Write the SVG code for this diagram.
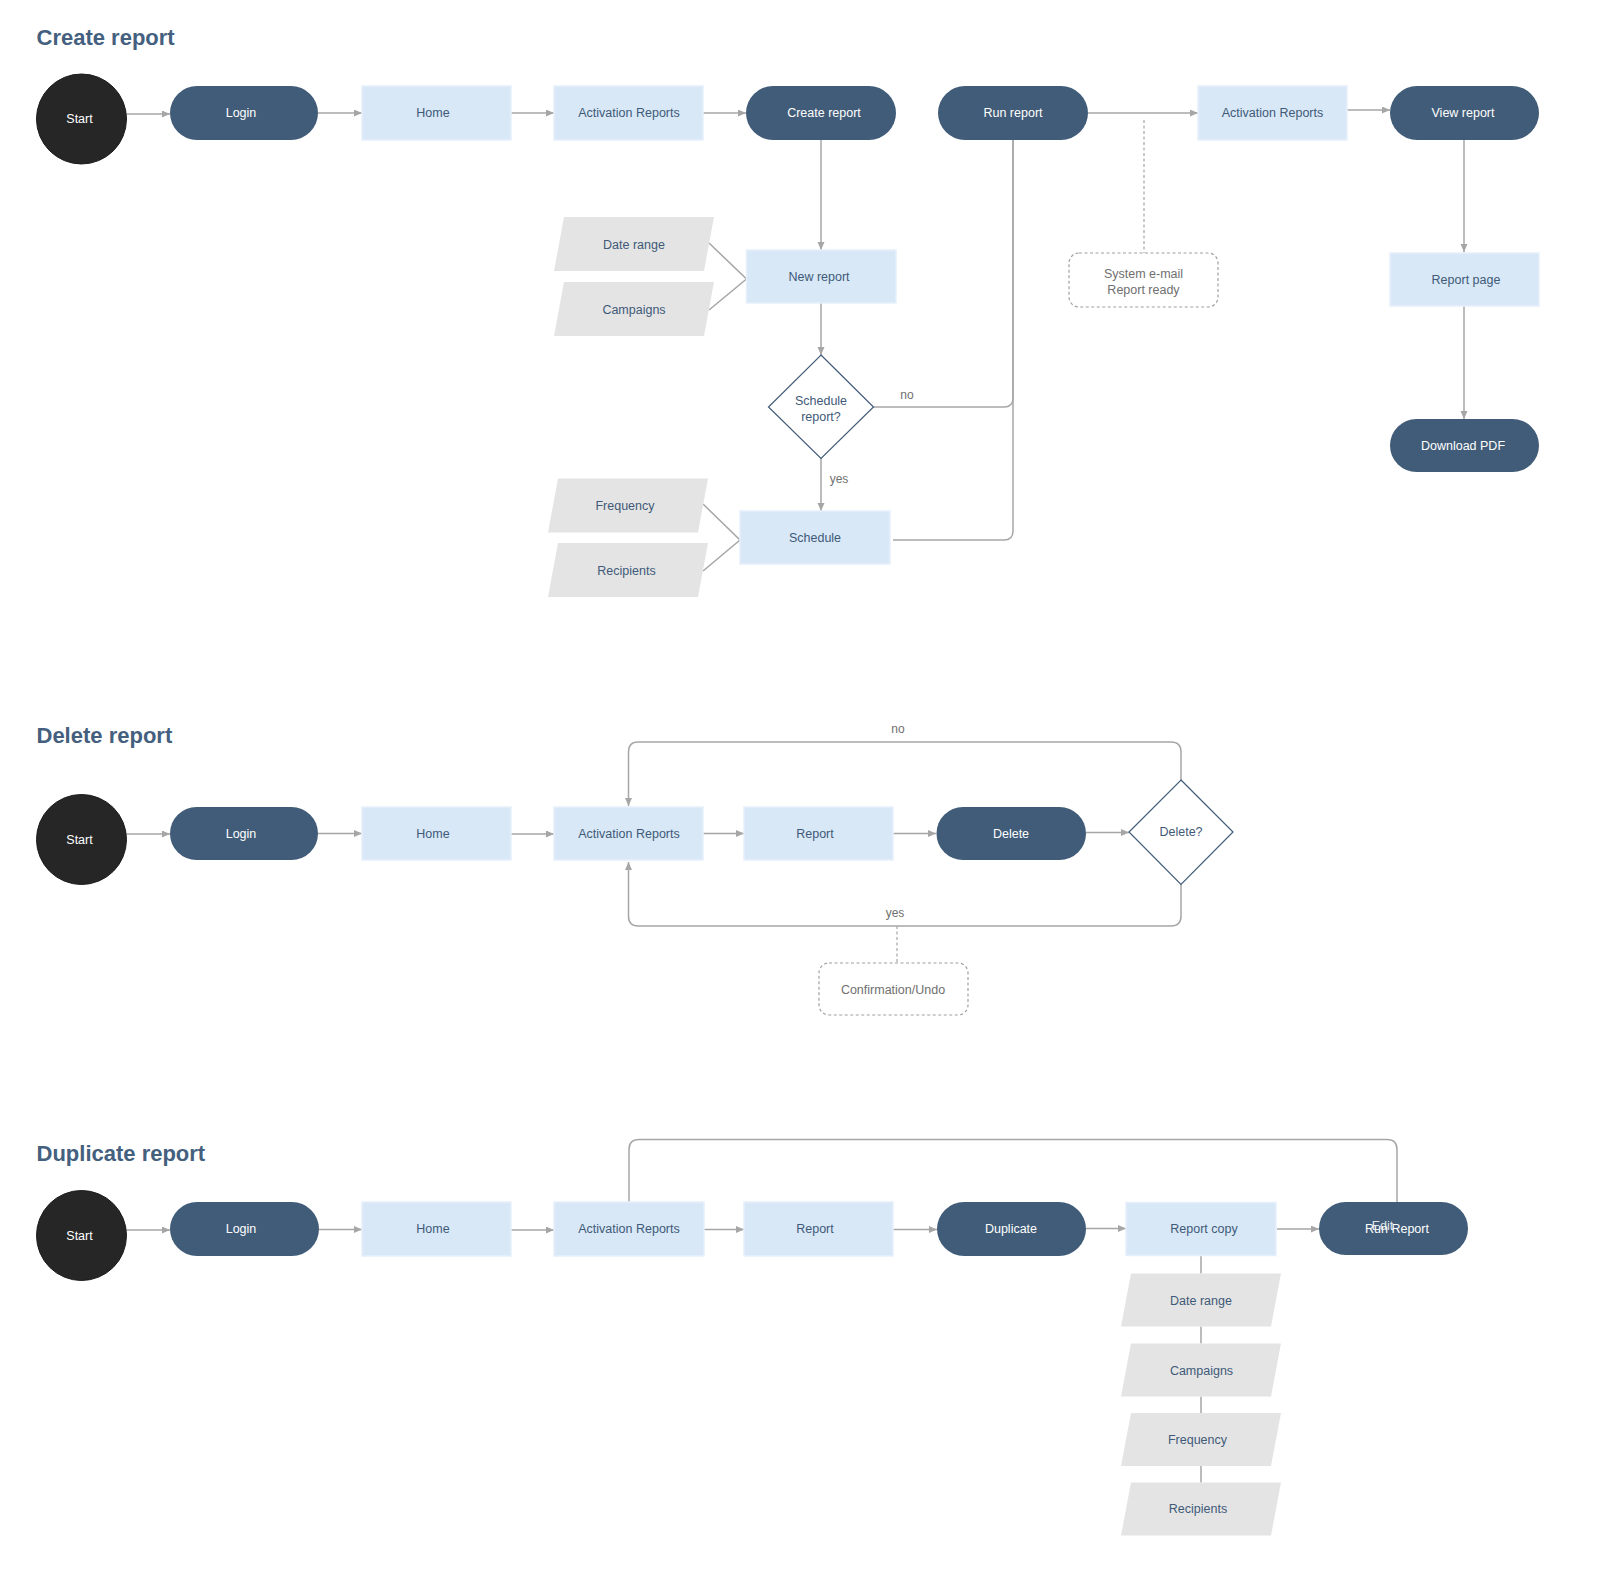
<svg xmlns="http://www.w3.org/2000/svg" width="1600" height="1573" viewBox="0 0 1600 1573">
<defs>
<marker id="ah" markerUnits="userSpaceOnUse" markerWidth="9" markerHeight="8" refX="8" refY="3.5" orient="auto">
<path d="M0,0 L8,3.5 L0,7 z" fill="#a6a6a6"/>
</marker>
<style>
.pill{fill:#415c78}
.box{fill:#d8e8f7;stroke:#e6f0fb;stroke-width:1.5}
.para{fill:#e4e4e4}
.start{fill:#262626;stroke:#1c1c1c;stroke-width:1}
.dia{fill:#fff;stroke:#415c78;stroke-width:1.2}
.note{fill:#fff;stroke:#a0a0a0;stroke-width:1.2;stroke-dasharray:3 2.5}
text{font-family:"Liberation Sans",Arial,Helvetica,sans-serif;font-size:12.5px;text-anchor:middle;dominant-baseline:central}
.tw{fill:#ffffff}
.tb{fill:#3f5a78}
.tg{fill:#707070}
.lbl{fill:#707070;font-size:12px}
.title{font-size:22px;font-weight:bold;fill:#44607e;text-anchor:start;dominant-baseline:auto}
.c{fill:none;stroke:#a6a6a6;stroke-width:1.5}
.ca{fill:none;stroke:#a6a6a6;stroke-width:1.5;marker-end:url(#ah)}
.cd{fill:none;stroke:#a6a6a6;stroke-width:1.2;stroke-dasharray:3 2.5}
</style>
</defs>
<rect width="1600" height="1573" fill="#ffffff"/>

<text class="title" x="36.5" y="45">Create report</text>
<text class="title" x="36.5" y="742.5">Delete report</text>
<text class="title" x="36.5" y="1161">Duplicate report</text>

<g id="connectors">
<!-- Create report -->
<path class="ca" d="M126.5,114 H170"/>
<path class="ca" d="M318,113 H362"/>
<path class="ca" d="M511,113 H554"/>
<path class="ca" d="M703,113 H746"/>
<path class="ca" d="M821,140 V250"/>
<path class="ca" d="M1088,113 H1198"/>
<path class="ca" d="M1347,110 H1390"/>
<path class="ca" d="M1464,140 V252"/>
<path class="ca" d="M1464,306 V419"/>
<path class="ca" d="M821,303 V355"/>
<path class="ca" d="M821,458 V511"/>
<path class="c" d="M873,407 H1004 Q1013,407 1013,398 V140"/>
<path class="c" d="M893,540 H1004 Q1013,540 1013,531 V140"/>
<path class="cd" d="M1144,120 V253"/>
<path class="c" d="M709,243 L746.5,279 L709,310"/>
<path class="c" d="M703,504 L740,540 L703,571"/>
<!-- Delete report -->
<path class="ca" d="M126.5,834 H170"/>
<path class="ca" d="M318,833.5 H362"/>
<path class="ca" d="M511,834 H554"/>
<path class="ca" d="M701.5,833.5 H744"/>
<path class="ca" d="M893,833.5 H936"/>
<path class="ca" d="M1086,832.5 H1129"/>
<path class="ca" d="M1181,780 V752 Q1181,742 1171,742 H638 Q628.5,742 628.5,752 V806"/>
<path class="ca" d="M1181,884 V916 Q1181,926 1171,926 H638 Q628.5,926 628.5,916 V862"/>
<path class="cd" d="M897,926 V963"/>
<!-- Duplicate report -->
<path class="ca" d="M126.5,1230 H170"/>
<path class="ca" d="M319,1229.5 H362"/>
<path class="ca" d="M511,1230 H554"/>
<path class="ca" d="M704,1229.5 H744"/>
<path class="ca" d="M893,1229.5 H937"/>
<path class="ca" d="M1086,1228.5 H1126"/>
<path class="ca" d="M1277,1229 H1319"/>
<path class="c" d="M629,1202 V1149.5 Q629,1139.5 639,1139.5 H1387 Q1397,1139.5 1397,1149.5 V1202"/>
<path class="c" d="M1201,1256 V1273.5 M1201,1326.5 V1343.5 M1201,1396.5 V1413 M1201,1466 V1482.5"/>
<text class="lbl" x="907" y="395">no</text>
<text class="lbl" x="839" y="479">yes</text>
<text class="lbl" x="898" y="729">no</text>
<text class="lbl" x="895" y="913">yes</text>
</g>

<!-- Create report flow -->
<g id="c-start"><circle class="start" cx="81.5" cy="119" r="45"/><text class="tw" x="79.5" y="119">Start</text></g>
<g id="c-login"><rect class="pill" x="170" y="86" width="148" height="54" rx="27"/><text class="tw" x="241" y="113">Login</text></g>
<g id="c-home"><rect class="box" x="362" y="86" width="149" height="54"/><text class="tb" x="433" y="113">Home</text></g>
<g id="c-ar"><rect class="box" x="554" y="86" width="149" height="54"/><text class="tb" x="629" y="113">Activation Reports</text></g>
<g id="c-create"><rect class="pill" x="746" y="86" width="150" height="54" rx="27"/><text class="tw" x="824" y="113">Create report</text></g>
<g id="c-run"><rect class="pill" x="938" y="86" width="150" height="54" rx="27"/><text class="tw" x="1013" y="113">Run report</text></g>
<g id="c-ar2"><rect class="box" x="1198" y="86" width="149" height="54"/><text class="tb" x="1272.5" y="113">Activation Reports</text></g>
<g id="c-view"><rect class="pill" x="1390" y="86" width="149" height="54" rx="27"/><text class="tw" x="1463" y="113">View report</text></g>
<g id="c-newreport"><rect class="box" x="746.5" y="250" width="149.5" height="53"/><text class="tb" x="819" y="276.5">New report</text></g>
<g id="c-daterange"><path class="para" d="M564,217 H714 L704,271 H554 Z"/><text class="tb" x="634" y="244.5">Date range</text></g>
<g id="c-campaigns"><path class="para" d="M564,282 H714 L704,336 H554 Z"/><text class="tb" x="634" y="309.5">Campaigns</text></g>
<g id="c-email"><rect class="note" x="1069" y="253" width="149" height="54" rx="10"/><text class="tg" x="1143.5" y="274">System e-mail</text><text class="tg" x="1143.5" y="289.5">Report ready</text></g>
<g id="c-reportpage"><rect class="box" x="1390" y="253" width="149" height="53"/><text class="tb" x="1466" y="280">Report page</text></g>
<g id="c-download"><rect class="pill" x="1390" y="419" width="149" height="53" rx="26.5"/><text class="tw" x="1463" y="445.5">Download PDF</text></g>
<g id="c-decision"><path class="dia" d="M821,355 L873.5,407 L821,458.5 L768.5,407 Z"/><text class="tb" x="821" y="401">Schedule</text><text class="tb" x="821" y="416.5">report?</text></g>
<g id="c-schedule"><rect class="box" x="740" y="511" width="150" height="53"/><text class="tb" x="815" y="538">Schedule</text></g>
<g id="c-frequency"><path class="para" d="M558,478.5 H708 L698,532.5 H548 Z"/><text class="tb" x="625" y="506">Frequency</text></g>
<g id="c-recipients"><path class="para" d="M558,543 H708 L698,597 H548 Z"/><text class="tb" x="626.5" y="571">Recipients</text></g>

<!-- Delete report flow -->
<g id="d-start"><circle class="start" cx="81.5" cy="839.5" r="45"/><text class="tw" x="79.5" y="839.5">Start</text></g>
<g id="d-login"><rect class="pill" x="170" y="807" width="148" height="53" rx="26.5"/><text class="tw" x="241" y="833.5">Login</text></g>
<g id="d-home"><rect class="box" x="362" y="807" width="149" height="53"/><text class="tb" x="433" y="833.5">Home</text></g>
<g id="d-ar"><rect class="box" x="554" y="807" width="149" height="53"/><text class="tb" x="629" y="833.5">Activation Reports</text></g>
<g id="d-report"><rect class="box" x="744" y="807" width="149" height="53"/><text class="tb" x="815" y="833.5">Report</text></g>
<g id="d-delete"><rect class="pill" x="936.5" y="807" width="149.5" height="53" rx="26.5"/><text class="tw" x="1011" y="833.5">Delete</text></g>
<g id="d-decision"><path class="dia" d="M1181,780 L1233,832 L1181,884.5 L1129,832 Z"/><text class="tb" x="1181" y="831.5">Delete?</text></g>
<g id="d-confirm"><rect class="note" x="819" y="963" width="149" height="52" rx="10"/><text class="tg" x="893" y="990">Confirmation/Undo</text></g>

<!-- Duplicate report flow -->
<g id="u-start"><circle class="start" cx="81.5" cy="1235.5" r="45"/><text class="tw" x="79.5" y="1235.5">Start</text></g>
<g id="u-login"><rect class="pill" x="170" y="1202" width="149" height="54" rx="27"/><text class="tw" x="241" y="1229">Login</text></g>
<g id="u-home"><rect class="box" x="362" y="1202" width="149" height="54"/><text class="tb" x="433" y="1229">Home</text></g>
<g id="u-ar"><rect class="box" x="554" y="1202" width="150" height="54"/><text class="tb" x="629" y="1229">Activation Reports</text></g>
<g id="u-report"><rect class="box" x="744" y="1202" width="149" height="54"/><text class="tb" x="815" y="1229">Report</text></g>
<g id="u-duplicate"><rect class="pill" x="937" y="1202" width="149" height="54" rx="27"/><text class="tw" x="1011" y="1229">Duplicate</text></g>
<g id="u-copy"><rect class="box" x="1126" y="1202.5" width="150" height="53"/><text class="tb" x="1204" y="1229">Report copy</text></g>
<g id="u-run"><rect class="pill" x="1319" y="1202" width="149" height="53" rx="26.5"/><text class="tw" x="1397" y="1229">Run Report</text><text class="tw" x="1382.5" y="1225.5" opacity="0.85">Edit</text></g>
<g id="u-daterange"><path class="para" d="M1131,1273.5 H1281 L1271,1326.5 H1121 Z"/><text class="tb" x="1201" y="1300.5">Date range</text></g>
<g id="u-campaigns"><path class="para" d="M1131,1343.5 H1281 L1271,1396.5 H1121 Z"/><text class="tb" x="1201.5" y="1370.5">Campaigns</text></g>
<g id="u-frequency"><path class="para" d="M1131,1413 H1281 L1271,1466 H1121 Z"/><text class="tb" x="1197.5" y="1440">Frequency</text></g>
<g id="u-recipients"><path class="para" d="M1131,1482.5 H1281 L1271,1535.5 H1121 Z"/><text class="tb" x="1198" y="1509">Recipients</text></g>
</svg>
